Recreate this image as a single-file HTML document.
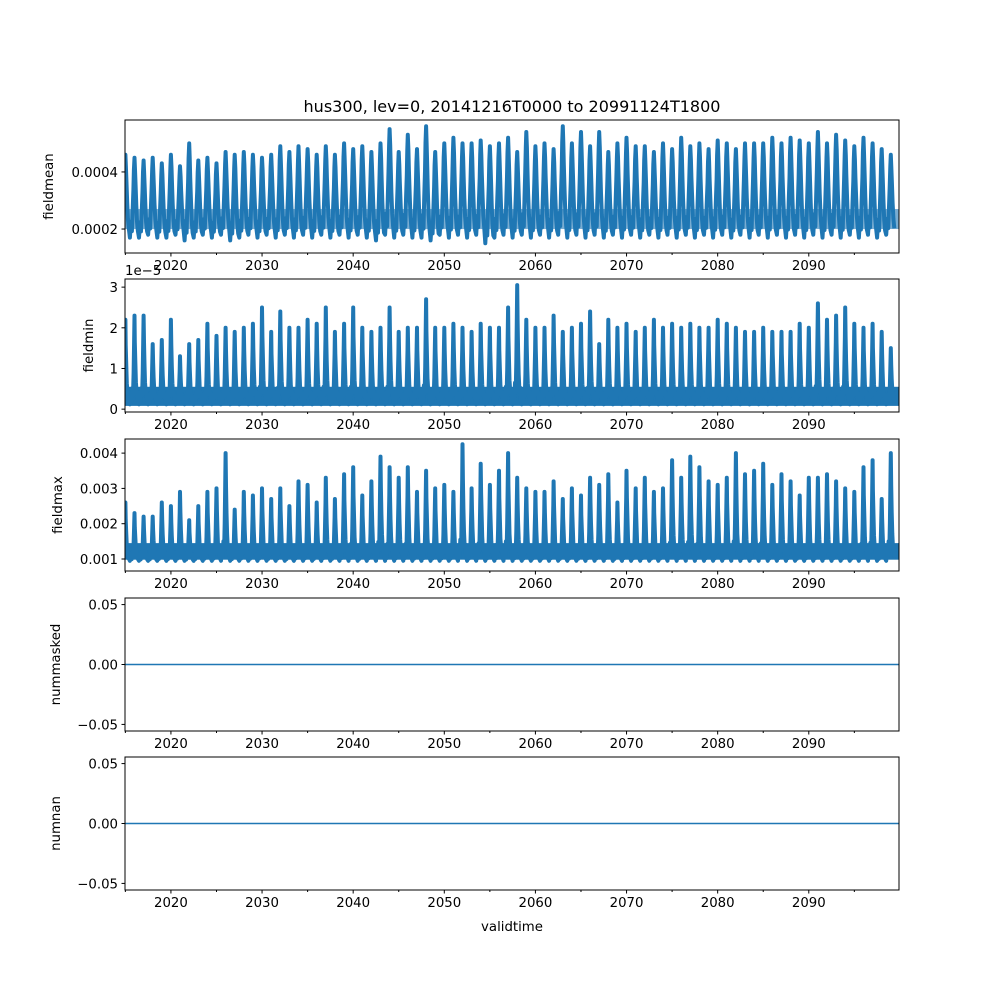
<!DOCTYPE html>
<html><head><meta charset="utf-8"><style>
body{margin:0;background:#fff}
svg text{font-family:"DejaVu Sans","Liberation Sans",sans-serif;font-size:13.3px;fill:#000}
</style></head><body>
<svg id="chart" width="1000" height="1000" xmlns="http://www.w3.org/2000/svg">
<rect width="1000" height="1000" fill="#fff"/>
<text x="512" y="112" text-anchor="middle" style="font-size:16px">hus300, lev=0, 20141216T0000 to 20991124T1800</text>
<text x="512" y="931" text-anchor="middle">validtime</text>
</svg>
<script>
const years = [];
for (let y = 2015; y <= 2099; y++) years.push(y);
const meanPeaks = [0.00046,0.00045,0.00044,0.00045,0.00043,0.00046,0.00042,0.00050,0.00044,0.00045,0.00043,0.00047,0.00046,0.00047,0.00046,0.00045,0.00046,0.00049,0.00047,0.00049,0.00048,0.00046,0.00049,0.00046,0.00050,0.00048,0.00049,0.00047,0.00050,0.00055,0.00047,0.00053,0.00048,0.00056,0.00047,0.00050,0.00052,0.00050,0.00050,0.00051,0.00049,0.00050,0.00052,0.00047,0.00054,0.00049,0.00050,0.00048,0.00056,0.00050,0.00054,0.00049,0.00054,0.00047,0.00050,0.00052,0.00049,0.00049,0.00047,0.00050,0.00048,0.00052,0.00049,0.00050,0.00048,0.00051,0.00050,0.00048,0.00050,0.00050,0.00050,0.00052,0.00050,0.00052,0.00051,0.00050,0.00054,0.00050,0.00053,0.00051,0.00049,0.00052,0.00050,0.00048,0.00046];
const meanTroughs = [0.00017,0.00016,0.00016,0.00017,0.00016,0.00016,0.00017,0.00015,0.00016,0.00017,0.00016,0.00017,0.00015,0.00016,0.00017,0.00016,0.00017,0.00016,0.00017,0.00016,0.00017,0.00016,0.00017,0.00016,0.00017,0.00016,0.00017,0.00016,0.00015,0.00017,0.00016,0.00017,0.00016,0.00016,0.00015,0.00017,0.00016,0.00017,0.00016,0.00017,0.00014,0.00016,0.00017,0.00016,0.00017,0.00016,0.00017,0.00016,0.00017,0.00016,0.00017,0.00016,0.00017,0.00016,0.00017,0.00016,0.00017,0.00016,0.00017,0.00016,0.00017,0.00016,0.00017,0.00016,0.00017,0.00016,0.00017,0.00016,0.00017,0.00016,0.00017,0.00016,0.00017,0.00016,0.00017,0.00016,0.00017,0.00016,0.00017,0.00016,0.00017,0.00016,0.00017,0.00016,0.00017];
const minPeaks = [2.2,2.3,2.3,1.6,1.7,2.2,1.3,1.6,1.7,2.1,1.8,2.0,1.9,2.0,2.1,2.5,1.9,2.4,2.0,2.0,2.2,2.1,2.5,1.9,2.1,2.5,2.0,1.9,2.0,2.5,1.9,2.0,2.0,2.7,2.0,2.0,2.1,2.0,1.9,2.1,2.0,2.0,2.5,3.05,2.2,2.0,2.0,2.3,1.9,2.0,2.1,2.4,1.6,2.2,2.0,2.1,1.9,2.0,2.2,2.0,2.1,2.0,2.1,2.0,2.0,2.2,2.1,2.0,1.9,1.9,2.0,1.9,1.9,1.9,2.1,2.0,2.6,2.2,2.3,2.5,2.1,2.0,2.1,1.9,1.5];
const maxPeaks = [2.6,2.3,2.2,2.2,2.6,2.5,2.9,2.1,2.5,2.9,3.0,4.0,2.4,2.9,2.8,3.0,2.7,3.0,2.5,3.2,3.1,2.6,3.3,2.7,3.4,3.6,2.8,3.2,3.9,3.6,3.3,3.6,2.9,3.5,3.0,3.1,2.9,4.25,3.0,3.7,3.1,3.5,4.0,3.3,3.0,2.9,2.9,3.2,2.7,3.0,2.8,3.3,3.1,3.4,2.6,3.5,3.0,3.3,2.9,3.0,3.8,3.3,3.9,3.6,3.2,3.1,3.3,4.0,3.4,3.5,3.7,3.1,3.4,3.2,2.8,3.3,3.3,3.4,3.2,3.0,2.9,3.6,3.8,2.7,4.0];
const numMasked = [0,0];
const numNan = [0,0];
const xTickLabels = ["2020","2030","2040","2050","2060","2070","2080","2090"];

const svg = document.getElementById('chart');
const NS = 'http://www.w3.org/2000/svg';
const X0 = 125, X1 = 899, T0 = 2014.96, T1 = 2099.9;
const xs = t => X0 + (t - T0) / (T1 - T0) * (X1 - X0);
function mk(tag, attrs, parent) { const e = document.createElementNS(NS, tag); for (const k in attrs) e.setAttribute(k, attrs[k]); (parent || svg).appendChild(e); return e; }

const panels = [
 {name:'fieldmean', top:120, bot:253, vmin:0.000116, vmax:0.000582, ticks:[[0.0002,'0.0002'],[0.0004,'0.0004']], lx:57},
 {name:'fieldmin', top:279, bot:412, vmin:-0.07, vmax:3.2, ticks:[[0,'0'],[1,'1'],[2,'2'],[3,'3']], lx:97},
 {name:'fieldmax', top:439, bot:571, vmin:0.00066, vmax:0.0044, ticks:[[0.001,'0.001'],[0.002,'0.002'],[0.003,'0.003'],[0.004,'0.004']], lx:66},
 {name:'nummasked', top:598, bot:731, vmin:-0.0555, vmax:0.0555, ticks:[[-0.05,'−0.05'],[0,'0.00'],[0.05,'0.05']], lx:64},
 {name:'numnan', top:757, bot:890, vmin:-0.0555, vmax:0.0555, ticks:[[-0.05,'−0.05'],[0,'0.00'],[0.05,'0.05']], lx:64}
];
const shape1T = [0.0,0.12,0.22,0.3,0.38,0.44,0.5,0.56,0.62,0.7,0.78,0.88];
const shape1V = [0.0,0.2,0.08,0.35,0.6,0.85,1.0,0.85,0.65,0.4,0.2,0.08];
const shape2T = [0.0,0.1,0.18,0.26,0.34,0.4,0.46,0.5,0.54,0.6,0.66,0.74,0.82,0.9];
const shape2V = [0.0,0.12,0.03,0.18,0.1,0.35,0.7,1.0,0.7,0.45,0.25,0.12,0.14,0.03];

panels.forEach((p, i) => {
  const g = mk('g', {});
  
  
  const ys = v => p.bot - (v - p.vmin) / (p.vmax - p.vmin) * (p.bot - p.top);
  const clipId = 'clip' + i;
  const cp = mk('clipPath', {id: clipId}, g);
  mk('rect', {x: X0, y: p.top, width: X1 - X0, height: p.bot - p.top}, cp);
  let pts = [];
  let sw = 1.5;
  if (i < 3) {
    sw = i === 0 ? 4 : 4;
    const T = i === 0 ? shape1T : shape2T, V = i === 0 ? shape1V : shape2V;
    for (let k = 0; k < years.length; k++) {
      let pk, lo;
      if (i === 0) { pk = meanPeaks[k]; lo = meanTroughs[k] + 0.00001; }
      else if (i === 1) { pk = minPeaks[k]; lo = 0.12; }
      else { pk = maxPeaks[k] * 0.001; lo = 0.00095; }
      for (let s = 0; s < T.length; s++) {
        const v = lo + (pk - lo) * V[s];
        pts.push(xs(years[k] - 0.5 + T[s]).toFixed(1) + ',' + ys(v).toFixed(1));
      }
    }
    const band = mk('rect', {x: X0, width: X1 - X0, fill: '#1f77b4', 'clip-path': 'url(#' + clipId + ')'}, g);
    const bLo = i === 0 ? 0.0002 : (i === 1 ? 0.08 : 0.00098);
    const bHi = i === 0 ? 0.00027 : (i === 1 ? 0.55 : 0.00145);
    band.setAttribute('y', ys(bHi)); band.setAttribute('height', ys(bLo) - ys(bHi));
    band.setAttribute('opacity', i === 0 ? '0.6' : '1');
    
    
  } else {
    const arr = i === 3 ? numMasked : numNan;
    pts = [xs(T0) + ',' + ys(arr[0]), xs(T1) + ',' + ys(arr[1])];
  }
  const line = mk('polyline', {points: pts.join(' '), fill: 'none', stroke: '#1f77b4', 'stroke-width': sw, 'stroke-linejoin': 'round', 'clip-path': 'url(#' + clipId + ')'}, g);
  
  
  const frame = mk('rect', {x: X0, y: p.top, width: X1 - X0, height: p.bot - p.top, fill: 'none', stroke: '#000', 'stroke-width': 1}, g);
  
  
  p.ticks.forEach(t => {
    const y = ys(t[0]);
    mk('line', {x1: X0 - 3.5, x2: X0, y1: y, y2: y, stroke: '#000'}, g);
    const tx = mk('text', {x: X0 - 7, y: y + 5, 'text-anchor': 'end'}, g);
    tx.textContent = t[1];
    
    
  });
  xTickLabels.forEach((lab, j) => {
    const x = xs(+lab);
    mk('line', {x1: x, x2: x, y1: p.bot, y2: p.bot + 3.5, stroke: '#000'}, g);
    const tx = mk('text', {x: x, y: p.bot + 17, 'text-anchor': 'middle'}, g);
    tx.textContent = lab;
    
    
  });
  for (let m = 2015; m <= 2095; m += 10) { const x = xs(m); mk('line', {x1: x, x2: x, y1: p.bot, y2: p.bot + 2, stroke: '#000'}, g); }
  const yl = mk('text', {x: p.lx - 4, y: (p.top + p.bot) / 2, 'text-anchor': 'middle', transform: 'rotate(-90 ' + (p.lx - 4) + ' ' + ((p.top + p.bot) / 2) + ')'}, g);
  yl.textContent = p.name;
  
  
  if (i === 1) {
    const off = mk('text', {x: X0, y: p.top - 4}, g);
    off.textContent = '1e−5';
    
    
  }
});
</script>
</body></html>
